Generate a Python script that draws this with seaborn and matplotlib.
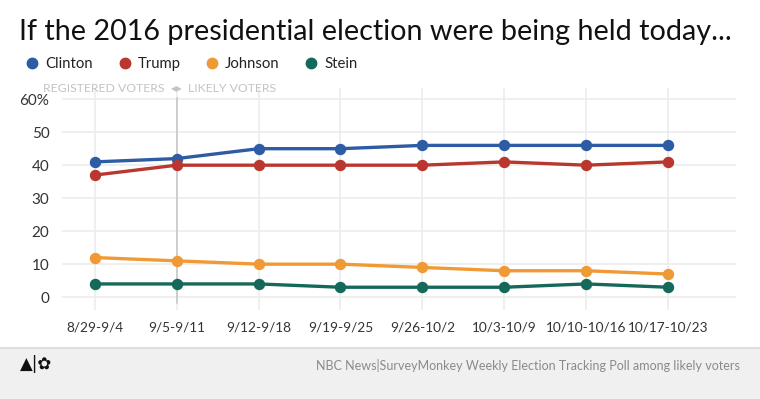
import numpy as np
import pandas as pd
import seaborn as sns
import matplotlib.pyplot as plt
from matplotlib.lines import Line2D
from matplotlib.patches import Rectangle

# ==========================================
# DATA
# ==========================================
weeks = ['8/29-9/4', '9/5-9/11', '9/12-9/18', '9/19-9/25',
         '9/26-10/2', '10/3-10/9', '10/10-10/16', '10/17-10/23']
clinton = [41, 42, 45, 45, 46, 46, 46, 46]
trump = [37, 40, 40, 40, 40, 41, 40, 41]
johnson = [12, 11, 10, 10, 9, 8, 8, 7]
stein = [4, 4, 4, 3, 3, 3, 4, 3]

candidates = ['Clinton', 'Trump', 'Johnson', 'Stein']
colors = ['#2d5ba4', '#b9372e', '#f09a36', '#15695a']
y_ticks = [0, 10, 20, 30, 40, 50, 60]
y_labels = ['0', '10', '20', '30', '40', '50', '60%']

df = pd.DataFrame({
    'week': weeks * 4,
    'value': clinton + trump + johnson + stein,
    'candidate': np.repeat(candidates, len(weeks)),
})

sns.set_style('white')
plt.rcParams['font.family'] = ['Lato', 'DejaVu Sans']

W, H = 760, 399
fig = plt.figure(figsize=(W / 100, H / 100), dpi=100)
ax = fig.add_axes([62 / W, 1 - 310 / H, (736 - 62) / W, (310 - 88) / H])


def px_x(px):
    # pixel column -> category position (ticks every 82 px from x=95)
    return (px - 95) / 82


# grid
for yt in y_ticks:
    ax.axhline(yt, color='#ececec', lw=1.2, zorder=0)
for i in range(len(weeks)):
    ax.axvline(i, color='#ececec', lw=1.2, zorder=0)

sns.lineplot(data=df, x='week', y='value', hue='candidate',
             palette=dict(zip(candidates, colors)), marker='o',
             markersize=7, markeredgewidth=1.2, linewidth=2.4,
             legend=False, ax=ax, sort=False, zorder=3)
for ln in ax.lines:
    ln.set_markeredgecolor(ln.get_color())

# the registered/likely divider line
ax.plot([1, 1], [-1.8, 60.5], color='#c8c8c8', lw=1.2, zorder=1)

ax.set_xlim(-0.4, len(weeks) - 1 + 0.83)
ax.set_ylim(-3.9, 63.4)
ax.set_yticks(y_ticks)
ax.set_yticklabels(y_labels)
ax.set_xlabel('')
ax.set_ylabel('')
for s in ax.spines.values():
    s.set_visible(False)
ax.tick_params(axis='both', length=0, colors='#333333')
ax.tick_params(axis='y', pad=9, labelsize=11)
ax.tick_params(axis='x', pad=8, labelsize=9.8)

ann_y = 63.2
ax.text(px_x(165), ann_y, 'REGISTERED VOTERS', ha='right', va='center',
        fontsize=8.8, color='#c4c4c4', zorder=5)
ax.text(px_x(177), ann_y, '\u25c0\u25b6', ha='center', va='center',
        fontsize=5.5, color='#c4c4c4', family=['DejaVu Sans'], zorder=5)
ax.text(px_x(188), ann_y, 'LIKELY VOTERS', ha='left', va='center',
        fontsize=8.8, color='#c4c4c4', zorder=5)

# title
fig.text(19 / W, 1 - 32 / H, 'If the 2016 presidential election were being held today...',
         fontsize=20.7, color='#111111', va='center', ha='left')

# legend
handles = [Line2D([0], [0], marker='o', color='none', markerfacecolor=c,
                  markeredgecolor=c, markersize=7.5) for c in colors]
fig.legend(handles, candidates, loc='center left', bbox_to_anchor=(19.8 / W, 1 - 64 / H),
           ncol=4, frameon=False, fontsize=10.7, handlelength=0.7, borderpad=0,
           handletextpad=0.5, columnspacing=1.8, labelcolor='#222222')

# footer
fig.patches.append(Rectangle((0, 0), 1, 51 / H, transform=fig.transFigure,
                             facecolor='#f0f0f0', edgecolor='none', zorder=0))
fig.add_artist(Line2D([0, 1], [51 / H, 51 / H], transform=fig.transFigure,
                      color='#dedede', lw=1.5))
fig.text(740 / W, 1 - 365 / H,
         'NBC News|SurveyMonkey Weekly Election Tracking Poll among likely voters',
         ha='right', va='center', fontsize=9, color='#8a8a8a')
fig.text(20 / W, 1 - 364 / H, '\u25b2|\u273f', ha='left', va='center',
         fontsize=12, color='#111111', family=['DejaVu Sans'])

fig.savefig('out.png', dpi=100)
